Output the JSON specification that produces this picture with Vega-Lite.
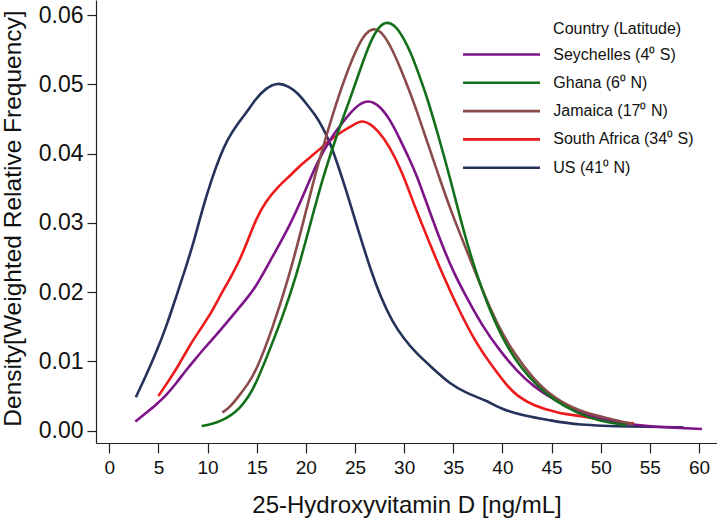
{
  "$schema": "https://vega.github.io/schema/vega-lite/v6.json",
  "width": 621,
  "height": 443,
  "autosize": {"type": "none"},
  "padding": {"left": 96, "top": 0, "right": 0, "bottom": 82},
  "background": "white",
  "config": {
    "view": {"stroke": null},
    "font": "Liberation Sans",
    "axis": {"grid": false, "domainColor": "#222", "tickColor": "#222", "labelColor": "#111", "titleColor": "#111", "labelFont": "Liberation Sans", "titleFont": "Liberation Sans", "titleFontWeight": "normal", "domainWidth": 1.2, "tickWidth": 1.2}
  },
  "data": {"values": [
    {"c":"US (41⁰ N)","x":2.7,"y":0.0048},{"c":"US (41⁰ N)","x":3.7,"y":0.0078},{"c":"US (41⁰ N)","x":4.75,"y":0.0112},{"c":"US (41⁰ N)","x":5.8,"y":0.0150},{"c":"US (41⁰ N)","x":6.8,"y":0.0193},{"c":"US (41⁰ N)","x":7.8,"y":0.0236},{"c":"US (41⁰ N)","x":8.65,"y":0.0275},{"c":"US (41⁰ N)","x":9.5,"y":0.0321},{"c":"US (41⁰ N)","x":10.35,"y":0.0360},{"c":"US (41⁰ N)","x":11.2,"y":0.0394},{"c":"US (41⁰ N)","x":12.05,"y":0.0421},{"c":"US (41⁰ N)","x":12.9,"y":0.0440},{"c":"US (41⁰ N)","x":13.9,"y":0.0458},{"c":"US (41⁰ N)","x":14.9,"y":0.0479},{"c":"US (41⁰ N)","x":15.9,"y":0.0494},{"c":"US (41⁰ N)","x":17.1,"y":0.0503},{"c":"US (41⁰ N)","x":18.3,"y":0.0497},{"c":"US (41⁰ N)","x":19.2,"y":0.0487},{"c":"US (41⁰ N)","x":20.0,"y":0.0473},{"c":"US (41⁰ N)","x":21.0,"y":0.0455},{"c":"US (41⁰ N)","x":21.7,"y":0.0438},{"c":"US (41⁰ N)","x":22.4,"y":0.0418},{"c":"US (41⁰ N)","x":23.2,"y":0.0386},{"c":"US (41⁰ N)","x":24.1,"y":0.0347},{"c":"US (41⁰ N)","x":24.9,"y":0.0309},{"c":"US (41⁰ N)","x":25.8,"y":0.0268},{"c":"US (41⁰ N)","x":26.6,"y":0.0232},{"c":"US (41⁰ N)","x":27.6,"y":0.0193},{"c":"US (41⁰ N)","x":28.8,"y":0.0157},{"c":"US (41⁰ N)","x":30.0,"y":0.0132},{"c":"US (41⁰ N)","x":31.2,"y":0.0112},{"c":"US (41⁰ N)","x":32.9,"y":0.0090},{"c":"US (41⁰ N)","x":34.6,"y":0.0068},{"c":"US (41⁰ N)","x":36.3,"y":0.0054},{"c":"US (41⁰ N)","x":38.3,"y":0.0044},{"c":"US (41⁰ N)","x":40.0,"y":0.0030},{"c":"US (41⁰ N)","x":42.4,"y":0.0021},{"c":"US (41⁰ N)","x":44.8,"y":0.0015},{"c":"US (41⁰ N)","x":47.5,"y":0.0008},{"c":"US (41⁰ N)","x":53.3,"y":0.00055},{"c":"US (41⁰ N)","x":58.4,"y":0.00046},

    {"c":"South Africa (34⁰ S)","x":5.0,"y":0.0050},{"c":"South Africa (34⁰ S)","x":6.1,"y":0.0073},{"c":"South Africa (34⁰ S)","x":7.1,"y":0.0095},{"c":"South Africa (34⁰ S)","x":8.1,"y":0.0121},{"c":"South Africa (34⁰ S)","x":9.2,"y":0.0145},{"c":"South Africa (34⁰ S)","x":10.35,"y":0.0169},{"c":"South Africa (34⁰ S)","x":11.4,"y":0.0198},{"c":"South Africa (34⁰ S)","x":12.4,"y":0.0222},{"c":"South Africa (34⁰ S)","x":13.4,"y":0.0250},{"c":"South Africa (34⁰ S)","x":14.25,"y":0.0280},{"c":"South Africa (34⁰ S)","x":14.9,"y":0.0304},{"c":"South Africa (34⁰ S)","x":15.9,"y":0.0331},{"c":"South Africa (34⁰ S)","x":17.3,"y":0.0354},{"c":"South Africa (34⁰ S)","x":18.4,"y":0.0368},{"c":"South Africa (34⁰ S)","x":19.5,"y":0.0384},{"c":"South Africa (34⁰ S)","x":21.0,"y":0.0401},{"c":"South Africa (34⁰ S)","x":22.4,"y":0.0419},{"c":"South Africa (34⁰ S)","x":23.8,"y":0.0433},{"c":"South Africa (34⁰ S)","x":24.9,"y":0.0442},{"c":"South Africa (34⁰ S)","x":25.7,"y":0.0448},{"c":"South Africa (34⁰ S)","x":26.5,"y":0.0443},{"c":"South Africa (34⁰ S)","x":27.3,"y":0.0434},{"c":"South Africa (34⁰ S)","x":28.5,"y":0.0411},{"c":"South Africa (34⁰ S)","x":29.8,"y":0.0373},{"c":"South Africa (34⁰ S)","x":30.6,"y":0.0342},{"c":"South Africa (34⁰ S)","x":31.3,"y":0.0316},{"c":"South Africa (34⁰ S)","x":32.6,"y":0.0270},{"c":"South Africa (34⁰ S)","x":33.9,"y":0.0226},{"c":"South Africa (34⁰ S)","x":35.5,"y":0.0176},{"c":"South Africa (34⁰ S)","x":37.2,"y":0.0129},{"c":"South Africa (34⁰ S)","x":39.0,"y":0.0092},{"c":"South Africa (34⁰ S)","x":40.5,"y":0.0064},{"c":"South Africa (34⁰ S)","x":41.5,"y":0.0050},{"c":"South Africa (34⁰ S)","x":43.1,"y":0.0036},{"c":"South Africa (34⁰ S)","x":45.7,"y":0.0025},{"c":"South Africa (34⁰ S)","x":48.0,"y":0.0021},{"c":"South Africa (34⁰ S)","x":50.6,"y":0.0014},{"c":"South Africa (34⁰ S)","x":53.4,"y":0.0010},

    {"c":"Seychelles (4⁰ S)","x":2.65,"y":0.0013},{"c":"Seychelles (4⁰ S)","x":3.7,"y":0.0025},{"c":"Seychelles (4⁰ S)","x":4.75,"y":0.0037},{"c":"Seychelles (4⁰ S)","x":5.8,"y":0.0051},{"c":"Seychelles (4⁰ S)","x":6.8,"y":0.0068},{"c":"Seychelles (4⁰ S)","x":7.8,"y":0.0087},{"c":"Seychelles (4⁰ S)","x":8.8,"y":0.0104},{"c":"Seychelles (4⁰ S)","x":9.8,"y":0.0121},{"c":"Seychelles (4⁰ S)","x":10.9,"y":0.0138},{"c":"Seychelles (4⁰ S)","x":11.9,"y":0.0155},{"c":"Seychelles (4⁰ S)","x":12.9,"y":0.0172},{"c":"Seychelles (4⁰ S)","x":13.9,"y":0.0189},{"c":"Seychelles (4⁰ S)","x":14.95,"y":0.0208},{"c":"Seychelles (4⁰ S)","x":16.6,"y":0.0251},{"c":"Seychelles (4⁰ S)","x":18.3,"y":0.0294},{"c":"Seychelles (4⁰ S)","x":19.7,"y":0.0338},{"c":"Seychelles (4⁰ S)","x":21.1,"y":0.0386},{"c":"Seychelles (4⁰ S)","x":22.5,"y":0.0422},{"c":"Seychelles (4⁰ S)","x":23.8,"y":0.0446},{"c":"Seychelles (4⁰ S)","x":25.0,"y":0.0467},{"c":"Seychelles (4⁰ S)","x":26.3,"y":0.0479},{"c":"Seychelles (4⁰ S)","x":27.6,"y":0.0468},{"c":"Seychelles (4⁰ S)","x":28.6,"y":0.0448},{"c":"Seychelles (4⁰ S)","x":29.5,"y":0.0423},{"c":"Seychelles (4⁰ S)","x":30.4,"y":0.0396},{"c":"Seychelles (4⁰ S)","x":31.2,"y":0.0372},{"c":"Seychelles (4⁰ S)","x":32.5,"y":0.0320},{"c":"Seychelles (4⁰ S)","x":33.8,"y":0.0270},{"c":"Seychelles (4⁰ S)","x":35.0,"y":0.0229},{"c":"Seychelles (4⁰ S)","x":36.4,"y":0.0191},{"c":"Seychelles (4⁰ S)","x":38.0,"y":0.0150},{"c":"Seychelles (4⁰ S)","x":39.7,"y":0.0116},{"c":"Seychelles (4⁰ S)","x":41.4,"y":0.0087},{"c":"Seychelles (4⁰ S)","x":43.1,"y":0.0064},{"c":"Seychelles (4⁰ S)","x":45.3,"y":0.0044},{"c":"Seychelles (4⁰ S)","x":47.5,"y":0.0028},{"c":"Seychelles (4⁰ S)","x":49.9,"y":0.0016},{"c":"Seychelles (4⁰ S)","x":53.3,"y":0.0008},{"c":"Seychelles (4⁰ S)","x":56.7,"y":0.00046},{"c":"Seychelles (4⁰ S)","x":60.3,"y":0.00022},

    {"c":"Jamaica (17⁰ N)","x":11.5,"y":0.0026},{"c":"Jamaica (17⁰ N)","x":12.3,"y":0.0034},{"c":"Jamaica (17⁰ N)","x":13.2,"y":0.0050},{"c":"Jamaica (17⁰ N)","x":14.05,"y":0.0066},{"c":"Jamaica (17⁰ N)","x":14.95,"y":0.0086},{"c":"Jamaica (17⁰ N)","x":16.6,"y":0.0147},{"c":"Jamaica (17⁰ N)","x":18.2,"y":0.0218},{"c":"Jamaica (17⁰ N)","x":19.6,"y":0.0293},{"c":"Jamaica (17⁰ N)","x":20.8,"y":0.0362},{"c":"Jamaica (17⁰ N)","x":22.0,"y":0.0422},{"c":"Jamaica (17⁰ N)","x":23.4,"y":0.0487},{"c":"Jamaica (17⁰ N)","x":24.8,"y":0.0540},{"c":"Jamaica (17⁰ N)","x":25.85,"y":0.0571},{"c":"Jamaica (17⁰ N)","x":26.9,"y":0.0583},{"c":"Jamaica (17⁰ N)","x":27.9,"y":0.0573},{"c":"Jamaica (17⁰ N)","x":28.8,"y":0.0550},{"c":"Jamaica (17⁰ N)","x":29.6,"y":0.0524},{"c":"Jamaica (17⁰ N)","x":30.6,"y":0.0488},{"c":"Jamaica (17⁰ N)","x":31.2,"y":0.0465},{"c":"Jamaica (17⁰ N)","x":32.3,"y":0.0419},{"c":"Jamaica (17⁰ N)","x":33.65,"y":0.0362},{"c":"Jamaica (17⁰ N)","x":35.0,"y":0.0308},{"c":"Jamaica (17⁰ N)","x":36.4,"y":0.0259},{"c":"Jamaica (17⁰ N)","x":37.8,"y":0.0208},{"c":"Jamaica (17⁰ N)","x":39.5,"y":0.0152},{"c":"Jamaica (17⁰ N)","x":41.2,"y":0.0111},{"c":"Jamaica (17⁰ N)","x":43.1,"y":0.0075},{"c":"Jamaica (17⁰ N)","x":45.3,"y":0.0046},{"c":"Jamaica (17⁰ N)","x":47.8,"y":0.0028},{"c":"Jamaica (17⁰ N)","x":50.6,"y":0.0018},{"c":"Jamaica (17⁰ N)","x":53.3,"y":0.0009},

    {"c":"Ghana (6⁰ N)","x":9.4,"y":0.00065},{"c":"Ghana (6⁰ N)","x":10.5,"y":0.00095},{"c":"Ghana (6⁰ N)","x":11.4,"y":0.0014},{"c":"Ghana (6⁰ N)","x":12.4,"y":0.0022},{"c":"Ghana (6⁰ N)","x":13.25,"y":0.0032},{"c":"Ghana (6⁰ N)","x":14.1,"y":0.0047},{"c":"Ghana (6⁰ N)","x":14.95,"y":0.0068},{"c":"Ghana (6⁰ N)","x":16.5,"y":0.0123},{"c":"Ghana (6⁰ N)","x":17.7,"y":0.0167},{"c":"Ghana (6⁰ N)","x":19.0,"y":0.0222},{"c":"Ghana (6⁰ N)","x":20.3,"y":0.0290},{"c":"Ghana (6⁰ N)","x":21.7,"y":0.0364},{"c":"Ghana (6⁰ N)","x":23.1,"y":0.0425},{"c":"Ghana (6⁰ N)","x":24.5,"y":0.0479},{"c":"Ghana (6⁰ N)","x":25.5,"y":0.0520},{"c":"Ghana (6⁰ N)","x":26.4,"y":0.0556},{"c":"Ghana (6⁰ N)","x":27.2,"y":0.0579},{"c":"Ghana (6⁰ N)","x":28.1,"y":0.0592},{"c":"Ghana (6⁰ N)","x":29.2,"y":0.0584},{"c":"Ghana (6⁰ N)","x":30.0,"y":0.0565},{"c":"Ghana (6⁰ N)","x":30.7,"y":0.0545},{"c":"Ghana (6⁰ N)","x":31.3,"y":0.0522},{"c":"Ghana (6⁰ N)","x":32.3,"y":0.0483},{"c":"Ghana (6⁰ N)","x":33.5,"y":0.0425},{"c":"Ghana (6⁰ N)","x":34.8,"y":0.0358},{"c":"Ghana (6⁰ N)","x":36.0,"y":0.0290},{"c":"Ghana (6⁰ N)","x":37.3,"y":0.0228},{"c":"Ghana (6⁰ N)","x":38.8,"y":0.0170},{"c":"Ghana (6⁰ N)","x":40.3,"y":0.0125},{"c":"Ghana (6⁰ N)","x":41.9,"y":0.0090},{"c":"Ghana (6⁰ N)","x":43.5,"y":0.0065},{"c":"Ghana (6⁰ N)","x":45.3,"y":0.0043},{"c":"Ghana (6⁰ N)","x":47.5,"y":0.0026},{"c":"Ghana (6⁰ N)","x":49.9,"y":0.0013},{"c":"Ghana (6⁰ N)","x":52.6,"y":0.0008}
  ]},
  "mark": {"type": "line", "strokeWidth": 2.6, "interpolate": "basis"},
  "encoding": {
    "x": {"field": "x", "type": "quantitative",
      "scale": {"domain": [-1.35, 61.83], "nice": false, "zero": false},
      "axis": {"values": [0,5,10,15,20,25,30,35,40,45,50,55,60], "title": "25-Hydroxyvitamin D [ng/mL]", "tickSize": 10, "labelPadding": 5, "labelFontSize": 19, "titleFontSize": 24, "titleBaseline": "alphabetic", "titleY": 69}},
    "y": {"field": "y", "type": "quantitative",
      "scale": {"domain": [-0.0018, 0.06217], "nice": false, "zero": false},
      "axis": {"values": [0,0.01,0.02,0.03,0.04,0.05,0.06], "format": ".2f", "title": "Density[Weighted Relative Frequency]", "tickSize": 9, "labelPadding": 4, "labelFontSize": 23, "titleFontSize": 24.5, "titleAngle": -90, "titleBaseline": "alphabetic", "titleAlign": "center", "titleX": -76, "titleY": 218}},
    "color": {"field": "c", "type": "nominal",
      "scale": {"domain": ["Seychelles (4⁰ S)", "Ghana (6⁰ N)", "Jamaica (17⁰ N)", "South Africa (34⁰ S)", "US (41⁰ N)"],
                "range": ["#7d1488", "#13701a", "#8c4b4b", "#ec1a1a", "#25325a"]},
      "legend": {"title": "Country (Latitude)\u00a0\u00a0\u00a0\u200b", "orient": "none", "legendX": 396.5, "legendY": 20.5, "padding": 0,
        "symbolType": "M-5,0H5", "symbolSize": 237, "symbolStrokeWidth": 2.6, "labelOffset": 42.8,
        "labelFontSize": 16, "titleFontSize": 16, "titleFontWeight": "normal", "titleAnchor": "end", "titleColor": "#111", "labelColor": "#111", "rowPadding": 11.3, "titlePadding": 9, "labelLimit": 300}}
  }
}
